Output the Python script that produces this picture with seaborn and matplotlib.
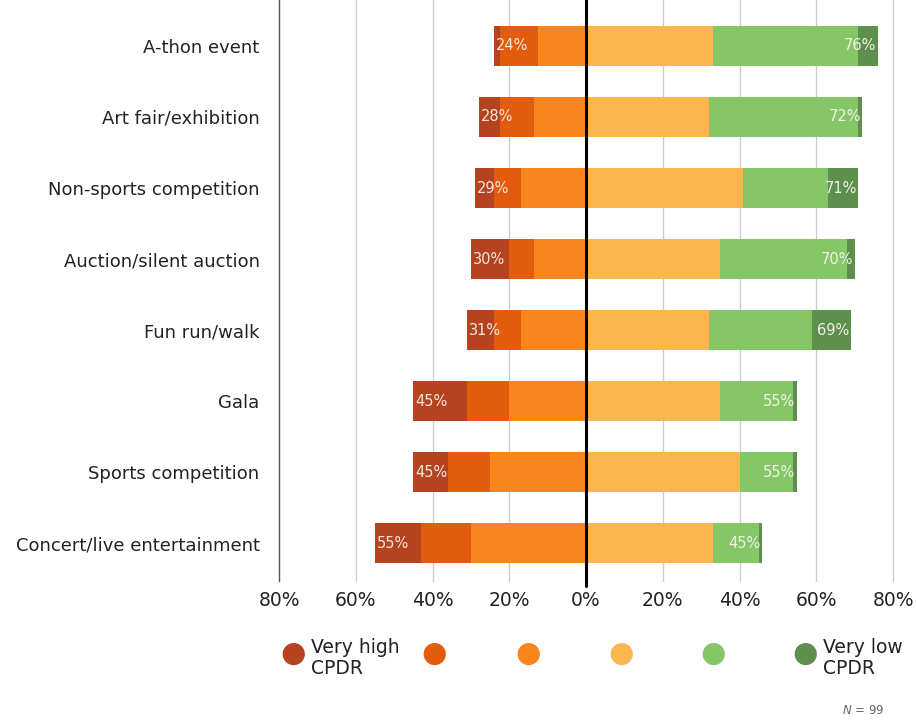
import matplotlib
matplotlib.use("Agg")
import matplotlib.pyplot as plt
import seaborn as sns
import pandas as pd
import numpy as np

categories = ["A-thon event", "Art fair/exhibition", "Non-sports competition",
              "Auction/silent auction", "Fun run/walk", "Gala",
              "Sports competition", "Concert/live entertainment"]
very_high = [1.5, 5.5, 5, 10, 7, 14, 9, 12]
high = [10, 9, 7, 6.5, 7, 11, 11, 13]
mod_high = [12.5, 13.5, 17, 13.5, 17, 20, 25, 30]
mod_low = [33, 32, 41, 35, 32, 35, 40, 33]
low = [38, 39, 22, 33, 27, 19, 14, 12]
very_low = [5, 1, 8, 2, 10, 1, 1, 0.8]
neg_labels = ["24%", "28%", "29%", "30%", "31%", "45%", "45%", "55%"]
pos_labels = ["76%", "72%", "71%", "70%", "69%", "55%", "55%", "45%"]
legend_names = ["Very high\nCPDR", "", "", "", "", "Very low\nCPDR"]
tick_vals = [-80, -60, -40, -20, 0, 20, 40, 60, 80]
tick_labels = ["80%", "60%", "40%", "20%", "0%", "20%", "40%", "60%", "80%"]

colors = ["#B5431F", "#E35B0E", "#F7861F", "#FBB74E", "#85C766", "#5E8F4D"]

df = pd.DataFrame({"cat": categories, "vh": very_high, "h": high, "mh": mod_high,
                   "ml": mod_low, "l": low, "vl": very_low})

sns.set_style("white")
plt.rcParams['font.family'] = ['DejaVu Sans']

fig = plt.figure(figsize=(9.16, 7.21), dpi=100)
ax = fig.add_axes([279/916, 1 - 581/721, 614/916, 581/721])

bw = 0.56
layers = [
    (-(df.vh + df.h + df.mh), colors[0]),
    (-(df.h + df.mh), colors[1]),
    (-df.mh, colors[2]),
    (df.ml + df.l + df.vl, colors[5]),
    (df.ml + df.l, colors[4]),
    (df.ml, colors[3]),
]
for vals, c in layers:
    sns.barplot(x=vals.values, y=df.cat, orient="h", color=c, width=bw,
                linewidth=0, saturation=1, ax=ax, zorder=3)

ax.set_xlim(-80, 80)
ax.set_ylim(7.53, -0.646)
ax.set_xticks(tick_vals)
ax.set_xticklabels(tick_labels, fontsize=13.5, color="#222222")
ax.tick_params(axis="y", labelsize=13, colors="#222222", length=0, pad=14)
ax.tick_params(axis="x", length=0, pad=7)
ax.set_xlabel("")
ax.set_ylabel("")
for s in ["top", "right", "bottom"]:
    ax.spines[s].set_visible(False)
ax.spines["left"].set_color("#555555")
ax.spines["left"].set_linewidth(1.0)

for xv in tick_vals[1:]:
    ax.axvline(xv, color="#cccccc", lw=1.0, zorder=0, clip_on=False)
ax.plot([0, 0], [7.6, -0.646], color="black", lw=2.2, zorder=5, clip_on=False)

totneg = (df.vh + df.h + df.mh).values
totpos = (df.ml + df.l + df.vl).values
for i in range(len(categories)):
    ax.text(-totneg[i] + 0.6, i, neg_labels[i], ha="left", va="center",
            fontsize=10.5, color="#f3e6df", zorder=6)
    ax.text(totpos[i] - 0.4, i, pos_labels[i], ha="right", va="center",
            fontsize=10.5, color="#f0f0e8", zorder=6)

lx = [293, 434, 528, 621, 713, 805]
for k in range(6):
    fig.text(lx[k] / 916, 1 - 654 / 721, "\u25CF", color=colors[k], fontsize=21,
             ha="center", va="center")
    if legend_names[k]:
        fig.text((lx[k] + 18) / 916, 1 - 658 / 721, legend_names[k], fontsize=13.5,
                 ha="left", va="center", color="#222222", linespacing=1.15)

fig.text(863 / 916, 1 - 711 / 721, "$N$ = 99", fontsize=8.5, color="#666666",
         ha="center", va="center")

fig.savefig("out.png", dpi=100)
